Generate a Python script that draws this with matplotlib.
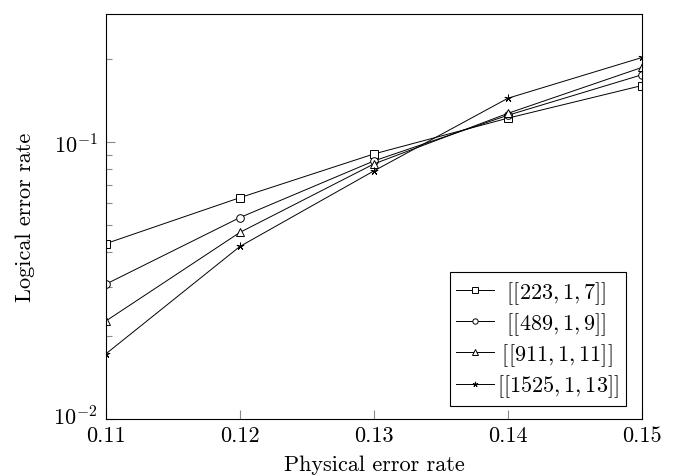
import matplotlib
matplotlib.use("Agg")
import matplotlib.pyplot as plt
from matplotlib.ticker import LogLocator, FixedLocator, FormatStrFormatter, NullFormatter
from matplotlib.transforms import ScaledTranslation

plt.rcParams['font.family'] = ['cmr10', 'DejaVu Serif']
plt.rcParams['mathtext.fontset'] = 'cm'
plt.rcParams['axes.formatter.use_mathtext'] = True

x = [0.11, 0.12, 0.13, 0.14, 0.15]
labels = [r'[[223,1,7]]', r'[[489,1,9]]', r'[[911,1,11]]', r'[[1525,1,13]]']
markers = ['s', 'o', '^', (5, 2, 0)]
y223 = [0.043, 0.063, 0.0906, 0.122, 0.160]
y489 = [0.0307, 0.0534, 0.0855, 0.125, 0.175]
y911 = [0.0226, 0.0472, 0.0834, 0.127, 0.186]
y1525 = [0.0172, 0.042, 0.0787, 0.144, 0.202]
series = [y223, y489, y911, y1525]

W, H = 677, 477
FS = 16
fig = plt.figure(figsize=(W / 100, H / 100), dpi=100)
L, R, T, B = 106, 642, 15, 420
ax = fig.add_axes([L / W, 1 - B / H, (R - L) / W, (B - T) / H])

for ys, m, lab in zip(series, markers, labels):
    ax.plot(x, ys, color='black', linewidth=0.7, marker=m, markersize=5.5,
            markerfacecolor='white', markeredgecolor='black',
            markeredgewidth=0.7, label='$' + lab + '$')

ax.set_yscale('log')
ax.set_xlim(0.11, 0.15)
ax.set_ylim(0.01, 0.29)
ax.xaxis.set_major_locator(FixedLocator(x))
ax.xaxis.set_major_formatter(FormatStrFormatter('%.2f'))
ax.yaxis.set_major_locator(LogLocator(base=10, numticks=10))
ax.yaxis.set_minor_locator(LogLocator(base=10, subs=range(2, 10), numticks=10))
ax.yaxis.set_minor_formatter(NullFormatter())

ax.tick_params(which='both', direction='in', top=False, right=False, color='#8a8a8a',
               labelsize=FS)
ax.tick_params(axis='x', pad=5)
ax.tick_params(axis='y', pad=6)
ax.tick_params(which='major', length=6.5, width=0.8)
ax.tick_params(which='minor', length=4.3, width=0.8)
for s in ax.spines.values():
    s.set_linewidth(0.8)

ax.set_xlabel('Physical error rate', fontsize=FS)
ax.set_ylabel('Logical error rate', fontsize=FS)
ax.xaxis.set_label_coords(0.5, (B - 455) / (B - T))
ax.yaxis.set_label_coords((35 - L) / (R - L), 0.5)

leg = ax.legend(loc='lower right', bbox_to_anchor=((626 - L) / (R - L), (B - 407) / (B - T)),
                fontsize=FS, fancybox=False, edgecolor='black',
                framealpha=1, handlelength=1.7, handletextpad=0.15, borderpad=0.3,
                labelspacing=0.2, borderaxespad=0.0, numpoints=1, markerscale=0.7)
leg.get_frame().set_linewidth(0.8)

# center legend labels like pgfplots
fig.canvas.draw()
renderer = fig.canvas.get_renderer()
widths = [t.get_window_extent(renderer).width for t in leg.get_texts()]
em = FS * 100 / 72
wmax = max(widths)
for t, w, lab in zip(leg.get_texts(), widths, labels):
    pad = (wmax - w) / 2 / em
    if pad > 0.01:
        t.set_text(r'$\hspace{%.3f}' % pad + lab + '$')

# nudge the lowest y label up slightly so it does not collide with the first x label
ymin = ax.get_ylim()[0]
for tick in ax.yaxis.get_major_ticks():
    if abs(tick.get_loc() - ymin) < 1e-9:
        tick.label1.set_transform(tick.label1.get_transform() +
                                  ScaledTranslation(0, 3 / 72, fig.dpi_scale_trans))

fig.savefig('out.png', dpi=100)
